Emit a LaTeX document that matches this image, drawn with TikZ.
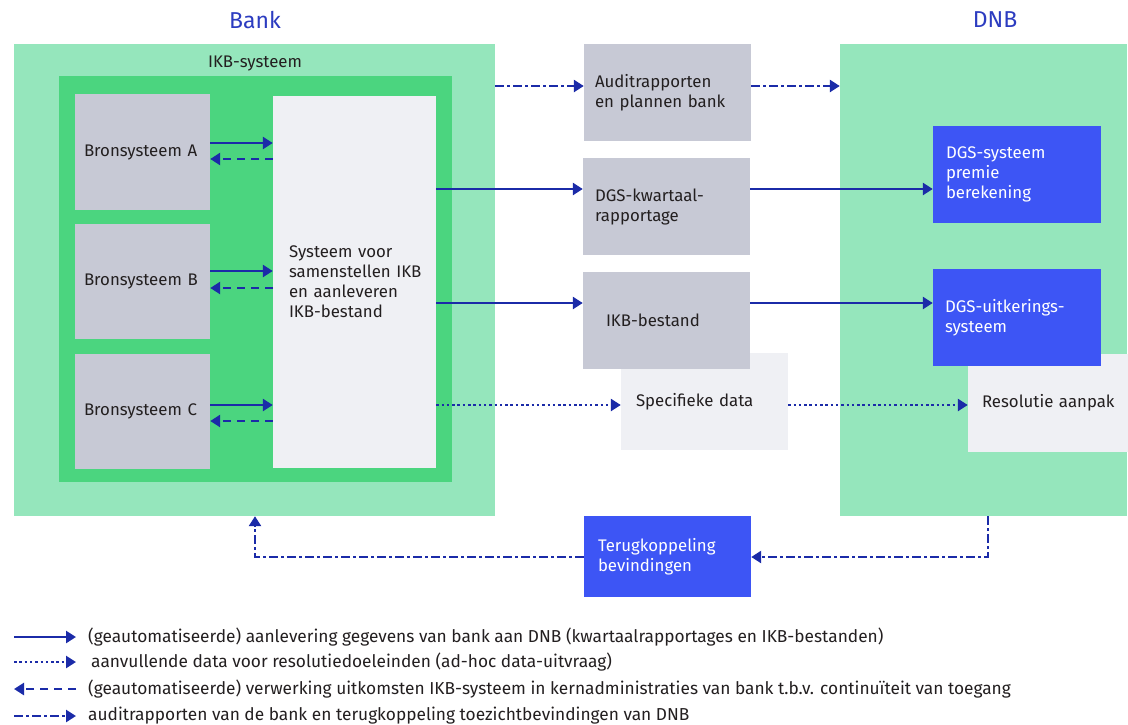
\documentclass[tikz,border=0pt]{standalone}
\usepackage{fontspec}
\setmainfont{Fira Sans}
\usetikzlibrary{arrows.meta}
\definecolor{lgreen}{HTML}{95E6BC}
\definecolor{mgreen}{HTML}{4BD57F}
\definecolor{gbox}{HTML}{C7C9D5}
\definecolor{lbox}{HTML}{EFF0F4}
\definecolor{bbox}{HTML}{3D55F5}
\definecolor{arr}{HTML}{1B2BA8}
\definecolor{ttl}{HTML}{2C3CC0}
\definecolor{txt}{HTML}{231F20}
\hbadness=10000 \hfuzz=100pt
\tikzset{
  box/.style={draw=none, rectangle, align=left, font=\fontsize{16.8}{20}\selectfont, text=txt, inner ysep=0pt},
  graybox/.style={box, fill=gbox},
  lightbox/.style={box, fill=lbox},
  bluebox/.style={box, fill=bbox, text=white},
  area/.style={rectangle, inner sep=0pt},
  tip/.style={-{Triangle[length=10pt,width=12pt]}},
  con/.style={line width=2.8pt, color=arr, tip},
  solidcon/.style={con},
  dashcon/.style={con, dash pattern=on 8pt off 6pt},
  dotcon/.style={con, line width=2.5pt, dash pattern=on 2.5pt off 2.8pt},
  auditcon/.style={con, dash pattern=on 9pt off 3pt on 3pt off 3pt},
  legtext/.style={anchor=west, inner sep=0pt, font=\fontsize{17.3}{20}\selectfont, text=txt},
  title/.style={font=\fontsize{23}{27}\selectfont, text=ttl, inner sep=0pt}
}
\begin{document}
\begin{tikzpicture}[x=1pt,y=-1pt]
\path[use as bounding box] (0,0) rectangle (1128,724);
% titles
\node[title] (tbank) at (255,20) {Bank};
\node[title] (tdnb) at (995,20) {DNB};
% bank areas
\node[area, fill=lgreen, minimum width=481pt, minimum height=472pt] (bankbg) at (254.5,280) {};
\node[inner sep=0pt, font=\fontsize{16.8}{20}\selectfont, text=txt] (ikbt) at (255,63) {IKB-systeem};
\node[area, fill=mgreen, minimum width=393pt, minimum height=406pt] (ikbbg) at (255.5,279) {};
\node[graybox, minimum height=116pt, inner xsep=9pt, text width=117pt] (srcA) at (142.5,152) {Bronsysteem A};
\node[graybox, minimum height=115pt, inner xsep=9pt, text width=117pt] (srcB) at (142.5,281.5) {Bronsysteem B};
\node[graybox, minimum height=115pt, inner xsep=9pt, text width=117pt] (srcC) at (142.5,411.5) {Bronsysteem C};
\node[lightbox, minimum height=372pt, inner xsep=16pt, text width=131pt] (sys) at (354.5,282) {Systeem voor\\\mbox{samenstellen IKB}\\en aanleveren\\IKB-bestand};
% DNB area
\node[area, fill=lgreen, minimum width=287pt, minimum height=472pt] (dnbbg) at (983.5,280) {};
% middle boxes
\node[graybox, minimum height=97pt, inner xsep=11pt, text width=145pt] (audit) at (667.5,92.5) {Auditrapporten\\en plannen bank};
\node[graybox, minimum height=97pt, inner xsep=12pt, text width=143pt] (kwart) at (666.5,206.5) {DGS-kwartaal-\\rapportage};
\node[lightbox, minimum height=97pt, inner xsep=15pt, text width=137pt] (spec) at (704.5,401.5) {\mbox{Specifieke data}};
\node[graybox, minimum height=97pt, inner xsep=23pt, text width=121pt] (ikbf) at (666.5,320.5) {IKB-bestand};
\node[bluebox, minimum height=81pt, inner xsep=14pt, text width=139pt] (feed) at (667.5,556.5) {Terugkoppeling\\bevindingen};
% DNB boxes
\node[bluebox, minimum height=97pt, inner xsep=13pt, text width=142pt] (prem) at (1017,174.5) {DGS-systeem\\premie\\berekening};
\node[lightbox, minimum height=98pt, inner xsep=14pt, text width=132pt] (reso) at (1048,403) {\mbox{Resolutie aanpak}};
\node[bluebox, minimum height=97pt, inner xsep=12pt, text width=144pt] (uitk) at (1017,317.5) {DGS-uitkerings-\\systeem};
% source arrows
\draw[solidcon] (srcA.east |- 0,143) -- (sys.west |- 0,143);
\draw[dashcon] (sys.west |- 0,159) -- (srcA.east |- 0,159);
\draw[solidcon] (srcB.east |- 0,271) -- (sys.west |- 0,271);
\draw[dashcon] (sys.west |- 0,288) -- (srcB.east |- 0,288);
\draw[solidcon] (srcC.east |- 0,405) -- (sys.west |- 0,405);
\draw[dashcon] (sys.west |- 0,421) -- (srcC.east |- 0,421);
% flows
\draw[auditcon] (bankbg.east |- 0,86) -- (audit.west |- 0,86);
\draw[auditcon] (audit.east |- 0,86) -- (dnbbg.west |- 0,86);
\draw[solidcon] (sys.east |- 0,189) -- (kwart.west |- 0,189);
\draw[solidcon] (kwart.east |- 0,189) -- (prem.west |- 0,189);
\draw[solidcon] (sys.east |- 0,303) -- (ikbf.west |- 0,303);
\draw[solidcon] (ikbf.east |- 0,303) -- (uitk.west |- 0,303);
\draw[dotcon] (sys.east |- 0,405) -- (spec.west |- 0,405);
\draw[dotcon] (spec.east |- 0,405) -- (reso.west |- 0,405);
% feedback
\coordinate (fbA) at (988,557);
\coordinate (fbB) at (255,557);
\draw[auditcon] (dnbbg.south -| fbA) -- (fbA) -- (feed.east |- fbA);
\draw[auditcon] (feed.west |- fbB) -- (fbB) -- (bankbg.south -| fbB);
% legend
\coordinate (l1a) at (14,637); \coordinate (l1b) at (76,637);
\coordinate (l2a) at (14,662); \coordinate (l2b) at (76,662);
\coordinate (l3a) at (14,689); \coordinate (l3b) at (76,689);
\coordinate (l4a) at (14,716); \coordinate (l4b) at (76,716);
\draw[solidcon] (l1a) -- (l1b);
\draw[dotcon] (l2a) -- (l2b);
\draw[dashcon] (l3b) -- (l3a);
\draw[auditcon] (l4a) -- (l4b);
\node[legtext] (t1) at (88,637) {(geautomatiseerde) aanlevering gegevens van bank aan DNB (kwartaalrapportages en IKB-bestanden)};
\node[legtext] (t2) at (91,662) {aanvullende data voor resolutiedoeleinden (ad-hoc data-uitvraag)};
\node[legtext] (t3) at (88,689) {(geautomatiseerde) verwerking uitkomsten IKB-systeem in kernadministraties van bank t.b.v. continuïteit van toegang};
\node[legtext] (t4) at (88,716) {auditrapporten van de bank en terugkoppeling toezichtbevindingen van DNB};
\end{tikzpicture}
\end{document}
